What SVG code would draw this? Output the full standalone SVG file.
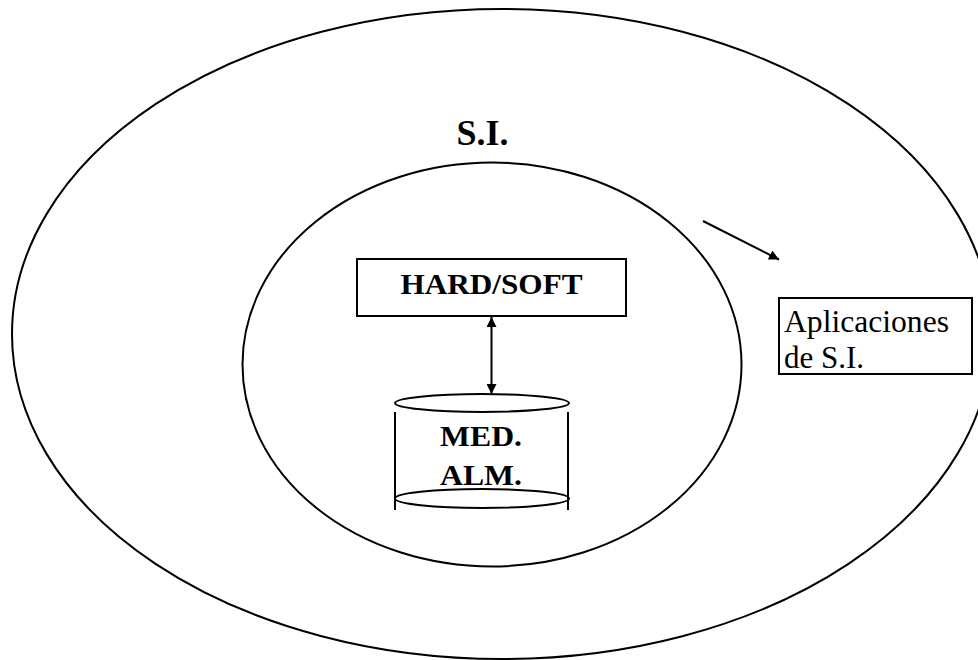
<svg xmlns="http://www.w3.org/2000/svg" width="978" height="660" viewBox="0 0 978 660">
  <style>
    .ln { fill: none; stroke: #000; stroke-width: 2; }
    .box { fill: #fff; stroke: #000; stroke-width: 2; }
    .bold { font-family: "Liberation Serif", "Times New Roman", serif; font-weight: bold; fill: #000; }
    .reg { font-family: "Liberation Serif", "Times New Roman", serif; fill: #000; }
  </style>
  <defs>
    <marker id="head" viewBox="0 0 10 10" refX="10" refY="5" markerWidth="10" markerHeight="10" markerUnits="userSpaceOnUse" orient="auto-start-reverse">
      <path d="M0,0 L10,5 L0,10 z" fill="#000"/>
    </marker>
  </defs>
  <rect width="978" height="660" fill="#fff"/>

  <g id="outer">
    <ellipse class="ln" cx="502" cy="334" rx="490" ry="325"/>
  </g>

  <g id="si-label">
    <text class="bold" x="482.5" y="145" font-size="36" text-anchor="middle">S.I.</text>
  </g>

  <g id="inner">
    <ellipse class="ln" cx="492" cy="364.5" rx="249.5" ry="202"/>
  </g>

  <g id="hardsoft">
    <rect class="box" x="357" y="259" width="269" height="57"/>
    <text class="bold" x="491.5" y="293.5" font-size="30" text-anchor="middle" textLength="182" lengthAdjust="spacingAndGlyphs">HARD/SOFT</text>
  </g>

  <g id="storage">
    <line class="ln" x1="395" y1="412" x2="395" y2="510"/>
    <line class="ln" x1="568" y1="412" x2="568" y2="510"/>
    <ellipse class="box" cx="482" cy="403" rx="87" ry="9"/>
    <ellipse class="ln" cx="482" cy="498.5" rx="87" ry="9.5"/>
    <text class="bold" x="481" y="446" font-size="29" text-anchor="middle" textLength="82" lengthAdjust="spacingAndGlyphs">MED.</text>
    <text class="bold" x="481" y="485" font-size="29" text-anchor="middle" textLength="82" lengthAdjust="spacingAndGlyphs">ALM.</text>
  </g>

  <g id="apps">
    <rect class="box" x="779" y="298" width="193" height="76"/>
    <text class="reg" x="784" y="331.5" font-size="31" textLength="165" lengthAdjust="spacingAndGlyphs">Aplicaciones</text>
    <text class="reg" x="784" y="368" font-size="31">de S.I.</text>
  </g>

  <g id="connectors">
    <line class="ln" x1="491.5" y1="317" x2="491.5" y2="394" marker-start="url(#head)" marker-end="url(#head)"/>
    <line class="ln" x1="703" y1="221" x2="779" y2="259.5" marker-end="url(#head)"/>
  </g>
</svg>
